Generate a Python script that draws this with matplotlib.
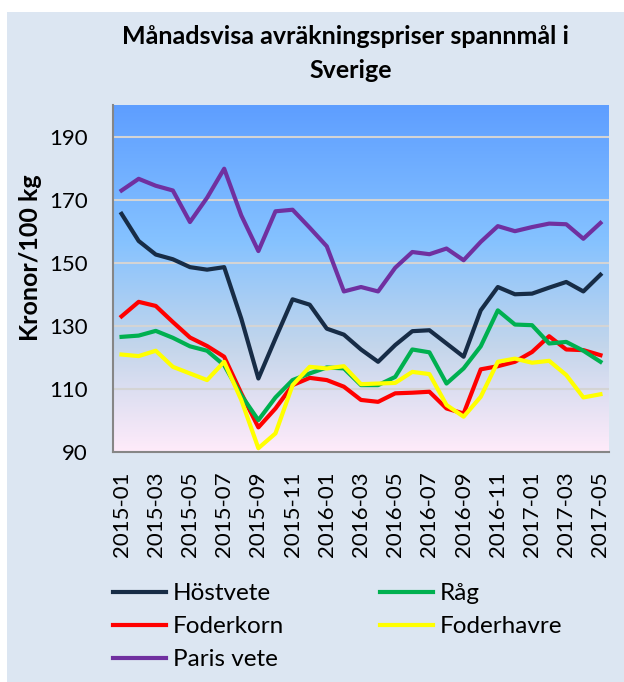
import matplotlib.pyplot as plt
import numpy as np
from matplotlib.colors import LinearSegmentedColormap
from matplotlib.patches import Rectangle

plt.rcParams['font.family'] = ['Lato', 'DejaVu Sans']

# Månader 2015-01 .. 2017-05
months = ['2015-01', '2015-02', '2015-03', '2015-04', '2015-05', '2015-06',
          '2015-07', '2015-08', '2015-09', '2015-10', '2015-11', '2015-12',
          '2016-01', '2016-02', '2016-03', '2016-04', '2016-05', '2016-06',
          '2016-07', '2016-08', '2016-09', '2016-10', '2016-11', '2016-12',
          '2017-01', '2017-02', '2017-03', '2017-04', '2017-05']

hostvete = [165.5, 156.9, 152.6, 151.1, 148.6, 147.8, 148.6, 132.3, 113.3, 126.0,
            138.4, 136.7, 129.1, 127.2, 122.5, 118.6, 123.9, 128.3, 128.6, 124.4,
            120.2, 134.9, 142.3, 140.0, 140.2, 142.1, 143.9, 140.9, 146.2]
rag = [126.5, 126.9, 128.4, 126.2, 123.5, 122.1, 117.5, 108.0, 100.1, 107.3,
       112.8, 114.9, 116.8, 116.5, 111.2, 111.2, 113.8, 122.5, 121.6, 111.7,
       116.5, 123.5, 134.9, 130.4, 130.2, 124.4, 124.9, 122.1, 118.6]
foderkorn = [133.0, 137.6, 136.3, 131.2, 126.3, 123.6, 120.2, 108.6, 97.8, 103.8,
             111.2, 113.5, 112.8, 110.7, 106.5, 105.9, 108.6, 108.8, 109.1, 103.8,
             102.2, 116.2, 117.2, 118.6, 121.7, 126.7, 122.5, 122.3, 120.7]
foderhavre = [120.9, 120.4, 122.1, 117.0, 114.9, 112.8, 118.6, 106.5, 91.2, 95.9,
              111.2, 117.0, 116.5, 117.2, 111.5, 111.7, 111.9, 115.4, 114.7, 104.9,
              101.2, 107.5, 118.6, 119.6, 118.3, 118.9, 114.4, 107.3, 108.3]
paris_vete = [172.9, 176.6, 174.4, 172.9, 162.9, 170.6, 179.8, 165.0, 153.7, 166.3,
              166.8, 161.1, 155.2, 140.9, 142.3, 140.9, 148.4, 153.4, 152.7, 154.5,
              150.8, 156.6, 161.6, 160.0, 161.3, 162.4, 162.2, 157.6, 162.6]

fig = plt.figure(figsize=(6.24, 6.82), dpi=100, facecolor='white')
# ljusblå bakgrundsruta
fig.patches.append(Rectangle((7 / 624, 0), 1, 1 - 12 / 682, transform=fig.transFigure,
                             facecolor='#DCE6F2', edgecolor='none', zorder=-10))

ax = fig.add_axes([113 / 624, 1 - 452 / 682, 496 / 624, 347 / 682])
ax.set_facecolor('none')

# gradient "Daybreak" (blå upptill, rosa nertill)
cmap = LinearSegmentedColormap.from_list('daybreak', [(0, '#5E9EFF'), (0.39, '#85C2FF'),
                                                      (0.70, '#C4D6EB'), (1, '#FFEBFA')])
ax.imshow(np.linspace(0, 1, 256).reshape(-1, 1), cmap=cmap, aspect='auto', origin='upper',
          extent=[-0.5, len(months) - 0.5, 90, 200], zorder=0)

x = np.arange(len(months))
ax.plot(x, hostvete, color='#172C46', lw=3, label='Höstvete', zorder=3)
ax.plot(x, foderkorn, color='#FF0000', lw=3, label='Foderkorn', zorder=3)
ax.plot(x, paris_vete, color='#7030A0', lw=3, label='Paris vete', zorder=3)
ax.plot(x, rag, color='#00B050', lw=3, label='Råg', zorder=3)
ax.plot(x, foderhavre, color='#FFFF00', lw=3, label='Foderhavre', zorder=3)

ax.set_xlim(-0.5, len(months) - 0.5)
ax.set_ylim(90, 200)
ax.set_yticks(range(90, 191, 20))
ax.yaxis.grid(True, color='#D4D4D4', lw=1.5, zorder=1)
ax.set_axisbelow(True)
ax.set_xticks(x[::2])
ax.set_xticklabels(months[::2], rotation=90)
ax.tick_params(axis='x', length=0, pad=14, labelsize=16)
ax.tick_params(axis='y', length=0, pad=18, labelsize=16)

for s in ['top', 'right']:
    ax.spines[s].set_visible(False)
for s in ['left', 'bottom']:
    ax.spines[s].set_color('#868686')
    ax.spines[s].set_linewidth(1.5)

fig.text(345 / 624, 1 - 37 / 682, 'Månadsvisa avräkningspriser spannmål i',
         ha='center', va='center', fontsize=18, fontweight='bold')
fig.text(351 / 624, 1 - 70 / 682, 'Sverige',
         ha='center', va='center', fontsize=18, fontweight='bold')
fig.text(31 / 624, 1 - 258 / 682, 'Kronor/100 kg', rotation=90, ha='center', va='center',
         fontsize=18, fontweight='bold')

fig.legend(loc='upper left', bbox_to_anchor=(113 / 624, 1 - 583 / 682), ncol=2,
           frameon=False, fontsize=17.5, handlelength=2.2, handletextpad=0.25,
           columnspacing=3.95, labelspacing=0.5, borderpad=0, borderaxespad=0)

fig.savefig('out.png', dpi=100, facecolor='white')
